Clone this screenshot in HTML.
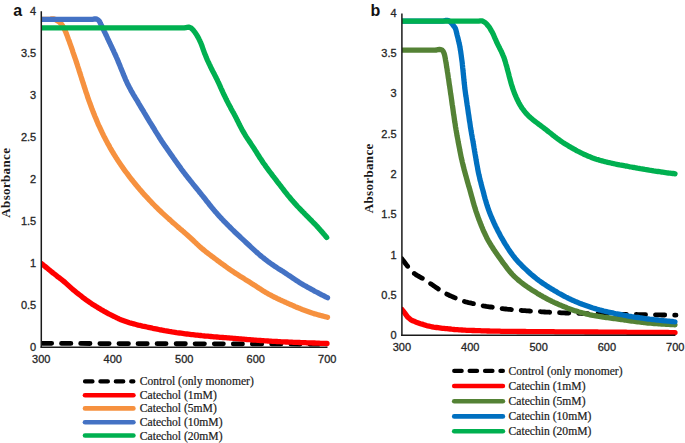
<!DOCTYPE html>
<html><head><meta charset="utf-8"><style>
html,body{margin:0;padding:0;background:#fff;}
svg{display:block;}
.tk{font-family:"Liberation Sans",sans-serif;font-size:11px;fill:#262626;stroke:#262626;stroke-width:0.3px;}
.lg{font-family:"Liberation Serif",serif;font-size:11.6px;fill:#1a1a1a;stroke:#1a1a1a;stroke-width:0.2px;}
.ab{font-family:"Liberation Serif",serif;font-size:13px;font-weight:bold;fill:#1a1a1a;letter-spacing:0.35px;}
.pl{font-family:"Liberation Sans",sans-serif;font-size:16px;font-weight:bold;fill:#111;}
</style></head><body>
<svg width="685" height="443" viewBox="0 0 685 443">
<defs><clipPath id="ca"><rect x="41.3" y="0" width="300" height="360"/></clipPath><clipPath id="cb"><rect x="401.9" y="0" width="290" height="360"/></clipPath></defs>
<g clip-path="url(#ca)">
<path d="M42.6,343.3 C55.5,343.4 93.8,343.5 120.0,343.6 C146.2,343.7 165.5,343.7 200.0,343.8 C234.5,343.9 305.8,344.0 327.0,344.0" fill="none" stroke="#000" stroke-width="4.8" stroke-linecap="round" stroke-linejoin="round" stroke-dasharray="9.3 9.78"/>
<path d="M41.5,263.6 L42.7,264.5 L43.8,265.5 L45.0,266.4 L46.2,267.4 L47.3,268.3 L48.5,269.3 L49.7,270.2 L50.9,271.2 L52.0,272.1 L53.2,273.1 L54.4,274.0 L55.6,274.9 L56.7,275.9 L57.9,276.8 L59.1,277.7 L60.3,278.6 L61.5,279.5 L62.7,280.5 L63.8,281.4 L65.0,282.4 L66.1,283.4 L67.2,284.4 L68.3,285.4 L69.4,286.4 L70.5,287.4 L71.6,288.4 L72.7,289.4 L73.9,290.3 L75.1,291.3 L76.2,292.2 L77.4,293.2 L78.6,294.1 L79.8,295.0 L81.0,295.9 L82.1,296.9 L83.3,297.8 L84.5,298.7 L85.7,299.6 L86.9,300.5 L88.2,301.3 L89.4,302.2 L90.7,303.0 L91.9,303.9 L93.2,304.7 L94.5,305.5 L95.7,306.3 L97.0,307.1 L98.3,307.9 L99.6,308.6 L100.9,309.4 L102.2,310.2 L103.5,310.9 L104.8,311.7 L106.1,312.4 L107.4,313.1 L108.7,313.8 L110.1,314.5 L111.4,315.2 L112.8,315.9 L114.1,316.5 L115.5,317.2 L116.8,317.8 L118.2,318.5 L119.5,319.1 L120.9,319.7 L122.3,320.2 L123.7,320.7 L125.1,321.2 L126.6,321.7 L128.0,322.2 L129.4,322.7 L130.9,323.1 L132.3,323.5 L133.7,323.9 L135.2,324.3 L136.7,324.7 L138.1,325.1 L139.6,325.4 L141.0,325.7 L142.5,326.1 L144.0,326.4 L145.5,326.7 L146.9,327.0 L148.4,327.3 L149.9,327.6 L151.3,327.9 L152.8,328.3 L154.3,328.6 L155.8,328.9 L157.2,329.2 L158.7,329.5 L160.2,329.8 L161.7,330.0 L163.1,330.3 L164.6,330.6 L166.1,330.8 L167.6,331.1 L169.1,331.4 L170.6,331.6 L172.0,331.9 L173.5,332.1 L175.0,332.3 L176.5,332.6 L178.0,332.8 L179.5,333.0 L181.0,333.2 L182.5,333.4 L183.9,333.6 L185.4,333.8 L186.9,334.0 L188.4,334.2 L189.9,334.4 L191.4,334.6 L192.9,334.7 L194.4,334.9 L195.9,335.1 L197.4,335.2 L198.9,335.4 L200.4,335.5 L201.9,335.7 L203.4,335.8 L204.9,336.0 L206.4,336.1 L207.9,336.2 L209.4,336.4 L210.9,336.5 L212.4,336.6 L213.9,336.8 L215.4,336.9 L216.9,337.0 L218.4,337.1 L219.9,337.3 L221.4,337.4 L222.9,337.5 L224.4,337.6 L225.9,337.7 L227.4,337.8 L228.9,337.9 L230.4,338.1 L231.9,338.2 L233.4,338.3 L234.9,338.4 L236.4,338.6 L237.9,338.7 L239.4,338.8 L240.9,338.9 L242.4,339.1 L243.9,339.2 L245.4,339.3 L246.9,339.5 L248.4,339.6 L249.9,339.7 L251.4,339.9 L252.9,340.0 L254.4,340.1 L255.9,340.2 L257.4,340.3 L258.9,340.4 L260.4,340.5 L261.9,340.6 L263.4,340.7 L264.9,340.8 L266.4,340.9 L267.9,341.0 L269.4,341.1 L270.9,341.2 L272.4,341.3 L273.9,341.4 L275.4,341.4 L276.9,341.5 L278.4,341.6 L279.9,341.7 L281.4,341.8 L282.9,341.8 L284.4,341.9 L285.9,342.0 L287.4,342.0 L288.9,342.1 L290.4,342.2 L291.9,342.2 L293.4,342.3 L294.9,342.3 L296.4,342.4 L297.9,342.4 L299.4,342.5 L300.9,342.6 L302.4,342.6 L303.9,342.7 L305.4,342.7 L306.9,342.8 L308.5,342.8 L310.0,342.9 L311.5,342.9 L313.0,343.0 L314.5,343.0 L316.0,343.1 L317.5,343.2 L319.0,343.2 L320.5,343.3 L322.0,343.3 L323.5,343.4 L325.0,343.4 L326.5,343.5 L327.0,343.5" fill="none" stroke="#FF0000" stroke-width="5.3" stroke-linecap="round" stroke-linejoin="round"/>
<path d="M41.5,19.4 L43.0,19.4 L44.5,19.4 L46.0,19.4 L47.5,19.4 L49.0,19.4 L50.5,19.2 L52.0,18.9 L53.4,18.8 L54.7,19.2 L56.0,19.9 L57.3,20.7 L58.6,21.5 L59.8,22.4 L60.8,23.5 L61.8,24.6 L62.6,25.8 L63.4,27.1 L64.0,28.5 L64.7,29.8 L65.3,31.2 L65.9,32.5 L66.4,33.9 L67.0,35.3 L67.5,36.7 L68.0,38.1 L68.5,39.5 L69.1,40.9 L69.6,42.4 L70.1,43.8 L70.6,45.2 L71.1,46.6 L71.6,48.0 L72.1,49.4 L72.6,50.9 L73.0,52.3 L73.5,53.7 L74.0,55.1 L74.5,56.5 L75.0,58.0 L75.5,59.4 L76.0,60.8 L76.4,62.2 L76.9,63.7 L77.4,65.1 L77.8,66.5 L78.3,68.0 L78.8,69.4 L79.2,70.8 L79.7,72.3 L80.1,73.7 L80.6,75.1 L81.0,76.5 L81.5,78.0 L81.9,79.4 L82.4,80.8 L82.9,82.3 L83.3,83.7 L83.8,85.1 L84.2,86.6 L84.7,88.0 L85.2,89.4 L85.6,90.9 L86.1,92.3 L86.6,93.7 L87.1,95.1 L87.5,96.6 L88.0,98.0 L88.5,99.4 L89.0,100.8 L89.5,102.2 L90.0,103.6 L90.6,105.1 L91.1,106.5 L91.6,107.9 L92.1,109.3 L92.7,110.7 L93.2,112.1 L93.8,113.5 L94.3,114.9 L94.9,116.3 L95.5,117.6 L96.1,119.0 L96.6,120.4 L97.2,121.8 L97.8,123.2 L98.4,124.6 L99.0,125.9 L99.7,127.3 L100.3,128.7 L100.9,130.0 L101.6,131.4 L102.2,132.7 L102.9,134.1 L103.5,135.4 L104.2,136.8 L104.9,138.1 L105.6,139.4 L106.3,140.8 L107.0,142.1 L107.7,143.4 L108.4,144.7 L109.2,146.0 L109.9,147.4 L110.6,148.7 L111.4,150.0 L112.2,151.3 L112.9,152.5 L113.7,153.8 L114.5,155.1 L115.3,156.4 L116.1,157.7 L116.9,158.9 L117.7,160.2 L118.5,161.4 L119.4,162.7 L120.2,163.9 L121.1,165.2 L121.9,166.4 L122.8,167.6 L123.6,168.9 L124.5,170.1 L125.4,171.3 L126.3,172.5 L127.2,173.7 L128.1,174.9 L129.0,176.1 L129.9,177.3 L130.8,178.5 L131.8,179.7 L132.7,180.8 L133.6,182.0 L134.6,183.2 L135.5,184.4 L136.5,185.5 L137.5,186.7 L138.4,187.8 L139.4,189.0 L140.4,190.1 L141.4,191.2 L142.3,192.4 L143.3,193.5 L144.3,194.6 L145.3,195.7 L146.4,196.8 L147.4,197.9 L148.4,199.0 L149.4,200.1 L150.5,201.2 L151.5,202.3 L152.5,203.4 L153.6,204.5 L154.6,205.5 L155.7,206.6 L156.8,207.7 L157.8,208.7 L158.9,209.8 L160.0,210.8 L161.1,211.8 L162.2,212.9 L163.3,213.9 L164.4,214.9 L165.5,215.9 L166.6,216.9 L167.7,217.9 L168.8,218.9 L170.0,219.9 L171.1,220.9 L172.2,222.0 L173.3,223.0 L174.5,223.9 L175.6,224.9 L176.7,225.9 L177.8,226.9 L179.0,227.9 L180.1,228.9 L181.3,229.8 L182.4,230.8 L183.6,231.8 L184.7,232.8 L185.8,233.7 L187.0,234.7 L188.1,235.7 L189.2,236.7 L190.3,237.7 L191.4,238.8 L192.5,239.8 L193.6,240.8 L194.7,241.9 L195.8,242.9 L196.8,243.9 L197.9,244.9 L199.0,246.0 L200.2,247.0 L201.3,248.0 L202.4,248.9 L203.6,249.9 L204.7,250.8 L205.9,251.8 L207.1,252.7 L208.3,253.6 L209.5,254.5 L210.7,255.4 L211.9,256.3 L213.1,257.2 L214.3,258.1 L215.5,259.0 L216.7,259.9 L217.9,260.8 L219.1,261.7 L220.3,262.6 L221.5,263.5 L222.8,264.4 L224.0,265.2 L225.2,266.1 L226.4,267.0 L227.6,267.9 L228.8,268.7 L230.1,269.6 L231.3,270.5 L232.6,271.3 L233.8,272.1 L235.1,273.0 L236.3,273.8 L237.6,274.6 L238.9,275.4 L240.1,276.2 L241.4,277.0 L242.7,277.8 L244.0,278.6 L245.2,279.4 L246.5,280.2 L247.8,281.0 L249.1,281.8 L250.3,282.6 L251.6,283.4 L252.9,284.2 L254.1,285.0 L255.4,285.8 L256.6,286.6 L257.9,287.5 L259.1,288.3 L260.4,289.1 L261.7,289.9 L262.9,290.7 L264.2,291.5 L265.5,292.3 L266.8,293.0 L268.1,293.8 L269.4,294.5 L270.7,295.2 L272.0,295.9 L273.4,296.6 L274.7,297.3 L276.1,297.9 L277.4,298.6 L278.8,299.2 L280.1,299.9 L281.5,300.5 L282.9,301.1 L284.2,301.7 L285.6,302.3 L287.0,303.0 L288.4,303.6 L289.7,304.2 L291.1,304.8 L292.5,305.4 L293.9,306.0 L295.2,306.6 L296.6,307.2 L298.0,307.8 L299.4,308.3 L300.8,308.9 L302.2,309.5 L303.6,310.0 L305.0,310.5 L306.4,311.0 L307.8,311.5 L309.2,312.0 L310.6,312.5 L312.1,313.0 L313.5,313.4 L314.9,313.9 L316.4,314.3 L317.8,314.7 L319.3,315.1 L320.7,315.5 L322.2,315.9 L323.6,316.3 L325.1,316.7 L326.5,317.0 L327.5,317.3" fill="none" stroke="#F6913F" stroke-width="5.3" stroke-linecap="round" stroke-linejoin="round"/>
<path d="M41.5,19.4 L43.0,19.4 L44.5,19.4 L46.0,19.4 L47.5,19.4 L49.0,19.4 L50.5,19.4 L52.0,19.4 L53.5,19.4 L55.0,19.4 L56.5,19.4 L58.0,19.4 L59.5,19.4 L61.0,19.4 L62.5,19.4 L64.0,19.4 L65.5,19.4 L67.0,19.4 L68.5,19.4 L70.0,19.4 L71.5,19.4 L73.1,19.4 L74.6,19.4 L76.1,19.4 L77.6,19.4 L79.1,19.4 L80.6,19.4 L82.1,19.4 L83.6,19.4 L85.1,19.4 L86.6,19.4 L88.1,19.4 L89.6,19.4 L91.1,19.4 L92.6,19.3 L94.0,19.0 L95.5,18.8 L96.8,19.1 L98.0,19.9 L99.1,20.9 L99.9,22.2 L100.5,23.6 L101.2,24.9 L101.8,26.2 L102.5,27.6 L103.1,28.9 L103.8,30.3 L104.4,31.6 L105.1,33.0 L105.7,34.3 L106.4,35.7 L107.0,37.0 L107.6,38.4 L108.3,39.7 L108.9,41.1 L109.5,42.5 L110.2,43.8 L110.8,45.2 L111.5,46.5 L112.1,47.9 L112.7,49.3 L113.4,50.6 L114.0,52.0 L114.6,53.3 L115.3,54.7 L115.9,56.1 L116.5,57.5 L117.1,58.8 L117.7,60.2 L118.2,61.6 L118.8,63.0 L119.4,64.4 L120.0,65.8 L120.5,67.2 L121.1,68.6 L121.6,69.9 L122.2,71.3 L122.8,72.7 L123.3,74.1 L123.9,75.5 L124.5,76.9 L125.1,78.3 L125.6,79.7 L126.3,81.0 L126.9,82.4 L127.5,83.7 L128.2,85.1 L128.9,86.4 L129.6,87.8 L130.3,89.1 L131.0,90.4 L131.7,91.7 L132.5,93.0 L133.2,94.3 L134.0,95.6 L134.8,96.9 L135.5,98.1 L136.3,99.4 L137.1,100.7 L137.9,102.0 L138.6,103.3 L139.4,104.6 L140.2,105.9 L140.9,107.2 L141.7,108.5 L142.5,109.8 L143.3,111.0 L144.0,112.3 L144.8,113.6 L145.6,114.9 L146.3,116.2 L147.1,117.5 L147.9,118.8 L148.7,120.1 L149.4,121.3 L150.2,122.6 L151.0,123.9 L151.8,125.2 L152.6,126.5 L153.4,127.8 L154.2,129.0 L154.9,130.3 L155.7,131.6 L156.5,132.9 L157.3,134.1 L158.1,135.4 L158.9,136.7 L159.7,138.0 L160.5,139.2 L161.3,140.5 L162.1,141.7 L163.0,143.0 L163.8,144.2 L164.7,145.5 L165.5,146.7 L166.4,147.9 L167.2,149.2 L168.1,150.4 L169.0,151.6 L169.8,152.9 L170.7,154.1 L171.6,155.3 L172.4,156.5 L173.3,157.8 L174.2,159.0 L175.0,160.2 L175.9,161.5 L176.8,162.7 L177.6,163.9 L178.5,165.1 L179.4,166.3 L180.3,167.6 L181.1,168.8 L182.0,170.0 L182.9,171.2 L183.8,172.4 L184.8,173.6 L185.7,174.8 L186.6,176.0 L187.5,177.1 L188.4,178.3 L189.4,179.5 L190.3,180.7 L191.3,181.8 L192.2,183.0 L193.1,184.2 L194.1,185.4 L195.0,186.5 L196.0,187.7 L196.9,188.9 L197.9,190.0 L198.8,191.2 L199.7,192.4 L200.7,193.5 L201.6,194.7 L202.6,195.9 L203.5,197.0 L204.5,198.2 L205.4,199.4 L206.3,200.6 L207.2,201.8 L208.2,202.9 L209.1,204.1 L210.0,205.3 L211.0,206.5 L211.9,207.6 L212.9,208.8 L213.8,209.9 L214.8,211.1 L215.8,212.2 L216.8,213.3 L217.8,214.5 L218.8,215.6 L219.8,216.7 L220.8,217.8 L221.8,218.9 L222.9,220.0 L223.9,221.1 L224.9,222.1 L226.0,223.2 L227.1,224.3 L228.1,225.4 L229.2,226.4 L230.2,227.5 L231.3,228.5 L232.4,229.6 L233.5,230.6 L234.5,231.7 L235.6,232.7 L236.7,233.7 L237.8,234.8 L238.9,235.8 L240.0,236.8 L241.1,237.9 L242.2,238.9 L243.3,239.9 L244.4,240.9 L245.5,242.0 L246.6,243.0 L247.7,244.0 L248.8,245.0 L249.9,246.0 L251.0,247.1 L252.1,248.1 L253.2,249.1 L254.3,250.1 L255.4,251.1 L256.5,252.1 L257.7,253.1 L258.8,254.1 L259.9,255.1 L261.1,256.1 L262.2,257.0 L263.4,257.9 L264.6,258.9 L265.8,259.8 L266.9,260.7 L268.1,261.6 L269.4,262.5 L270.6,263.4 L271.8,264.2 L273.0,265.1 L274.3,265.9 L275.5,266.8 L276.8,267.6 L278.0,268.4 L279.3,269.2 L280.6,270.0 L281.8,270.8 L283.1,271.6 L284.4,272.4 L285.6,273.2 L286.9,274.1 L288.1,274.9 L289.4,275.7 L290.6,276.6 L291.9,277.4 L293.1,278.3 L294.3,279.1 L295.6,279.9 L296.8,280.8 L298.1,281.6 L299.4,282.4 L300.7,283.2 L301.9,283.9 L303.2,284.7 L304.5,285.5 L305.8,286.2 L307.1,286.9 L308.4,287.7 L309.8,288.4 L311.1,289.1 L312.4,289.8 L313.7,290.6 L315.0,291.3 L316.4,292.0 L317.7,292.7 L319.0,293.4 L320.4,294.1 L321.7,294.8 L323.0,295.4 L324.4,296.1 L325.7,296.8 L327.1,297.5 L327.5,297.7" fill="none" stroke="#4472C4" stroke-width="5.3" stroke-linecap="round" stroke-linejoin="round"/>
<path d="M41.5,27.9 L43.0,27.9 L44.5,27.9 L46.0,27.9 L47.5,27.9 L49.0,27.9 L50.5,27.9 L52.0,27.9 L53.5,27.9 L55.0,27.9 L56.5,27.9 L58.0,27.9 L59.5,27.9 L61.0,27.9 L62.5,27.9 L64.1,27.9 L65.6,27.9 L67.1,27.9 L68.6,27.9 L70.1,27.9 L71.6,27.9 L73.1,27.9 L74.6,27.9 L76.1,27.9 L77.6,27.9 L79.1,27.9 L80.6,27.9 L82.1,27.9 L83.6,27.9 L85.1,27.9 L86.6,27.9 L88.1,27.9 L89.6,27.9 L91.1,27.9 L92.6,27.9 L94.1,27.9 L95.6,27.9 L97.1,27.9 L98.6,27.9 L100.1,27.9 L101.6,27.9 L103.1,27.9 L104.6,27.9 L106.1,27.9 L107.6,27.9 L109.2,27.9 L110.7,27.9 L112.2,27.9 L113.7,27.9 L115.2,27.9 L116.7,27.9 L118.2,27.9 L119.7,27.9 L121.2,27.9 L122.7,27.9 L124.2,27.9 L125.7,27.9 L127.2,27.9 L128.7,27.9 L130.2,27.9 L131.7,27.9 L133.2,27.9 L134.7,27.9 L136.2,27.9 L137.7,27.9 L139.2,27.9 L140.7,27.9 L142.2,27.9 L143.7,27.9 L145.2,27.9 L146.7,27.9 L148.2,27.9 L149.7,27.9 L151.2,27.9 L152.7,27.9 L154.3,27.9 L155.8,27.9 L157.3,27.9 L158.8,27.9 L160.3,27.9 L161.8,27.9 L163.3,27.9 L164.8,27.9 L166.3,27.9 L167.8,27.9 L169.3,27.9 L170.8,27.9 L172.3,27.9 L173.8,27.9 L175.3,27.9 L176.8,27.9 L178.3,27.9 L179.8,27.9 L181.3,27.9 L182.8,27.9 L184.3,27.9 L185.8,27.7 L187.2,27.3 L188.6,27.1 L190.0,27.5 L191.3,28.2 L192.4,29.2 L193.4,30.3 L194.3,31.5 L195.2,32.7 L196.0,33.9 L196.8,35.2 L197.6,36.5 L198.4,37.8 L199.0,39.1 L199.7,40.5 L200.3,41.9 L200.9,43.2 L201.5,44.6 L202.0,46.0 L202.5,47.5 L203.0,48.9 L203.5,50.3 L204.0,51.7 L204.5,53.1 L205.1,54.5 L205.7,55.9 L206.2,57.3 L206.8,58.7 L207.4,60.1 L208.0,61.4 L208.7,62.8 L209.3,64.1 L210.0,65.5 L210.6,66.9 L211.3,68.2 L211.9,69.6 L212.6,70.9 L213.3,72.2 L214.0,73.6 L214.7,74.9 L215.4,76.2 L216.0,77.6 L216.7,78.9 L217.4,80.3 L218.0,81.6 L218.7,83.0 L219.3,84.4 L219.9,85.7 L220.5,87.1 L221.1,88.5 L221.7,89.8 L222.4,91.2 L223.0,92.6 L223.6,93.9 L224.2,95.3 L224.9,96.6 L225.6,98.0 L226.2,99.3 L226.9,100.7 L227.6,102.0 L228.3,103.4 L229.0,104.7 L229.7,106.0 L230.4,107.3 L231.1,108.7 L231.8,110.0 L232.5,111.3 L233.3,112.6 L234.0,113.9 L234.7,115.3 L235.4,116.6 L236.1,117.9 L236.8,119.3 L237.4,120.6 L238.1,121.9 L238.8,123.3 L239.4,124.6 L240.1,125.9 L240.8,127.3 L241.5,128.6 L242.2,129.9 L242.9,131.2 L243.7,132.5 L244.5,133.8 L245.2,135.1 L246.0,136.4 L246.8,137.6 L247.7,138.9 L248.5,140.1 L249.3,141.4 L250.2,142.6 L251.0,143.9 L251.8,145.1 L252.7,146.4 L253.5,147.6 L254.3,148.9 L255.1,150.2 L255.9,151.4 L256.7,152.7 L257.5,154.0 L258.3,155.2 L259.1,156.5 L259.9,157.8 L260.8,159.0 L261.6,160.3 L262.4,161.5 L263.2,162.8 L264.1,164.0 L265.0,165.2 L265.8,166.5 L266.7,167.7 L267.6,168.9 L268.5,170.1 L269.4,171.3 L270.3,172.5 L271.2,173.7 L272.1,174.9 L273.0,176.1 L274.0,177.3 L274.9,178.5 L275.8,179.7 L276.7,180.9 L277.6,182.1 L278.5,183.2 L279.4,184.4 L280.4,185.6 L281.3,186.8 L282.2,188.0 L283.1,189.2 L284.0,190.4 L284.9,191.6 L285.9,192.8 L286.8,193.9 L287.7,195.1 L288.7,196.3 L289.7,197.4 L290.6,198.6 L291.6,199.7 L292.6,200.9 L293.6,202.0 L294.6,203.1 L295.6,204.2 L296.6,205.4 L297.6,206.5 L298.6,207.5 L299.7,208.6 L300.7,209.7 L301.8,210.8 L302.8,211.9 L303.9,212.9 L304.9,214.0 L306.0,215.1 L307.0,216.1 L308.1,217.2 L309.2,218.3 L310.2,219.3 L311.3,220.4 L312.3,221.5 L313.4,222.6 L314.4,223.6 L315.5,224.7 L316.5,225.8 L317.5,226.9 L318.5,228.0 L319.5,229.1 L320.5,230.3 L321.5,231.4 L322.5,232.5 L323.5,233.7 L324.5,234.8 L325.4,236.0 L326.4,237.1 L326.7,237.5" fill="none" stroke="#00B050" stroke-width="5.3" stroke-linecap="round" stroke-linejoin="round"/>
</g>
<g clip-path="url(#cb)">
<path d="M402.0,258.9 L402.9,260.1 L403.8,261.3 L404.7,262.5 L405.6,263.7 L406.5,264.9 L407.4,266.1 L408.4,267.3 L409.3,268.5 L410.3,269.6 L411.3,270.7 L412.3,271.8 L413.4,272.8 L414.6,273.7 L415.8,274.6 L417.1,275.4 L418.4,276.1 L419.7,276.9 L421.0,277.6 L422.3,278.3 L423.6,279.1 L424.9,279.9 L426.1,280.7 L427.4,281.5 L428.6,282.4 L429.9,283.2 L431.1,284.0 L432.4,284.9 L433.6,285.7 L434.9,286.6 L436.1,287.4 L437.4,288.3 L438.6,289.1 L439.9,289.9 L441.1,290.7 L442.4,291.6 L443.7,292.3 L445.0,293.1 L446.3,293.8 L447.6,294.5 L449.0,295.2 L450.3,295.8 L451.7,296.4 L453.1,297.0 L454.5,297.6 L455.8,298.2 L457.2,298.8 L458.6,299.4 L460.0,300.0 L461.4,300.5 L462.8,301.0 L464.2,301.5 L465.7,301.9 L467.1,302.2 L468.6,302.6 L470.1,302.9 L471.5,303.2 L473.0,303.6 L474.5,303.9 L475.9,304.3 L477.4,304.6 L478.9,305.0 L480.3,305.3 L481.8,305.6 L483.3,305.9 L484.8,306.1 L486.2,306.4 L487.7,306.6 L489.2,306.8 L490.7,307.0 L492.2,307.2 L493.7,307.4 L495.2,307.7 L496.7,307.9 L498.2,308.1 L499.6,308.3 L501.1,308.5 L502.6,308.7 L504.1,308.9 L505.6,309.0 L507.1,309.2 L508.6,309.3 L510.1,309.4 L511.6,309.6 L513.1,309.7 L514.6,309.8 L516.1,309.9 L517.6,310.1 L519.1,310.2 L520.6,310.3 L522.1,310.5 L523.6,310.6 L525.1,310.7 L526.6,310.8 L528.1,310.9 L529.6,311.0 L531.1,311.1 L532.6,311.2 L534.1,311.3 L535.6,311.4 L537.1,311.5 L538.6,311.6 L540.1,311.7 L541.6,311.8 L543.1,311.9 L544.6,312.0 L546.1,312.1 L547.6,312.2 L549.1,312.2 L550.6,312.3 L552.1,312.4 L553.6,312.5 L555.1,312.5 L556.7,312.6 L558.2,312.7 L559.7,312.7 L561.2,312.8 L562.7,312.9 L564.2,312.9 L565.7,313.0 L567.2,313.0 L568.7,313.1 L570.2,313.1 L571.7,313.2 L573.2,313.2 L574.7,313.2 L576.2,313.3 L577.7,313.3 L579.2,313.4 L580.7,313.4 L582.2,313.5 L583.7,313.5 L585.2,313.6 L586.7,313.6 L588.2,313.7 L589.7,313.7 L591.2,313.7 L592.7,313.8 L594.2,313.8 L595.8,313.9 L597.3,313.9 L598.8,314.0 L600.3,314.0 L601.8,314.0 L603.3,314.0 L604.8,314.1 L606.3,314.1 L607.8,314.1 L609.3,314.1 L610.8,314.2 L612.3,314.2 L613.8,314.2 L615.3,314.2 L616.8,314.3 L618.3,314.3 L619.8,314.3 L621.3,314.3 L622.8,314.3 L624.3,314.4 L625.8,314.4 L627.4,314.4 L628.9,314.4 L630.4,314.5 L631.9,314.5 L633.4,314.5 L634.9,314.5 L636.4,314.5 L637.9,314.6 L639.4,314.6 L640.9,314.6 L642.4,314.6 L643.9,314.7 L645.4,314.7 L646.9,314.7 L648.4,314.7 L649.9,314.8 L651.4,314.8 L652.9,314.8 L654.4,314.8 L655.9,314.9 L657.4,314.9 L658.9,314.9 L660.5,314.9 L662.0,315.0 L663.5,315.0 L665.0,315.0 L666.5,315.0 L668.0,315.1 L669.5,315.1 L671.0,315.1 L672.5,315.1 L674.0,315.2 L675.5,315.2 L676.0,315.2" fill="none" stroke="#000" stroke-width="4.8" stroke-linecap="round" stroke-linejoin="round" stroke-dasharray="9.3 9.9"/>
<path d="M402.0,309.6 L402.9,310.8 L403.9,312.0 L404.8,313.1 L405.7,314.4 L406.6,315.6 L407.5,316.8 L408.5,317.8 L409.7,318.8 L410.8,319.7 L412.1,320.5 L413.5,321.1 L414.9,321.6 L416.3,322.2 L417.7,322.7 L419.1,323.2 L420.5,323.7 L422.0,324.1 L423.4,324.6 L424.8,325.0 L426.3,325.5 L427.7,325.9 L429.2,326.2 L430.6,326.5 L432.1,326.8 L433.6,327.1 L435.1,327.3 L436.6,327.5 L438.0,327.7 L439.5,327.9 L441.0,328.1 L442.5,328.3 L444.0,328.4 L445.5,328.6 L447.0,328.7 L448.5,328.9 L450.0,329.0 L451.5,329.2 L453.0,329.3 L454.5,329.5 L456.0,329.6 L457.5,329.7 L459.0,329.8 L460.5,329.9 L462.0,330.0 L463.5,330.1 L465.0,330.2 L466.5,330.3 L468.0,330.3 L469.5,330.4 L471.0,330.4 L472.5,330.5 L474.0,330.5 L475.5,330.6 L477.0,330.6 L478.5,330.7 L480.0,330.7 L481.5,330.8 L483.0,330.8 L484.5,330.9 L486.0,330.9 L487.5,331.0 L489.0,331.0 L490.5,331.1 L492.0,331.1 L493.5,331.1 L495.0,331.2 L496.5,331.2 L498.1,331.2 L499.6,331.2 L501.1,331.3 L502.6,331.3 L504.1,331.3 L505.6,331.3 L507.1,331.3 L508.6,331.4 L510.1,331.4 L511.6,331.4 L513.1,331.4 L514.6,331.4 L516.1,331.4 L517.6,331.5 L519.1,331.5 L520.6,331.5 L522.1,331.5 L523.6,331.5 L525.1,331.5 L526.6,331.6 L528.1,331.6 L529.6,331.6 L531.1,331.6 L532.6,331.6 L534.1,331.6 L535.6,331.6 L537.2,331.6 L538.7,331.7 L540.2,331.7 L541.7,331.7 L543.2,331.7 L544.7,331.7 L546.2,331.7 L547.7,331.7 L549.2,331.7 L550.7,331.7 L552.2,331.7 L553.7,331.7 L555.2,331.8 L556.7,331.8 L558.2,331.8 L559.7,331.8 L561.2,331.8 L562.7,331.8 L564.2,331.8 L565.7,331.8 L567.2,331.8 L568.7,331.8 L570.2,331.9 L571.7,331.9 L573.2,331.9 L574.7,331.9 L576.2,331.9 L577.8,331.9 L579.3,331.9 L580.8,331.9 L582.3,331.9 L583.8,331.9 L585.3,332.0 L586.8,332.0 L588.3,332.0 L589.8,332.0 L591.3,332.0 L592.8,332.0 L594.3,332.0 L595.8,332.0 L597.3,332.0 L598.8,332.1 L600.3,332.1 L601.8,332.1 L603.3,332.1 L604.8,332.1 L606.3,332.1 L607.8,332.1 L609.3,332.1 L610.8,332.1 L612.3,332.1 L613.8,332.2 L615.3,332.2 L616.9,332.2 L618.4,332.2 L619.9,332.2 L621.4,332.2 L622.9,332.2 L624.4,332.2 L625.9,332.2 L627.4,332.3 L628.9,332.3 L630.4,332.3 L631.9,332.3 L633.4,332.3 L634.9,332.3 L636.4,332.3 L637.9,332.3 L639.4,332.3 L640.9,332.4 L642.4,332.4 L643.9,332.4 L645.4,332.4 L646.9,332.4 L648.4,332.4 L649.9,332.4 L651.4,332.4 L652.9,332.4 L654.4,332.5 L656.0,332.5 L657.5,332.5 L659.0,332.5 L660.5,332.5 L662.0,332.5 L663.5,332.5 L665.0,332.5 L666.5,332.5 L668.0,332.5 L669.5,332.6 L671.0,332.6 L672.5,332.6 L674.0,332.6 L675.0,332.6" fill="none" stroke="#FF0000" stroke-width="5.3" stroke-linecap="round" stroke-linejoin="round"/>
<path d="M402.0,50.1 L403.5,50.1 L405.0,50.1 L406.5,50.1 L408.0,50.1 L409.5,50.1 L411.0,50.1 L412.5,50.1 L414.0,50.1 L415.5,50.1 L417.0,50.1 L418.5,50.1 L420.0,50.1 L421.5,50.1 L423.0,50.1 L424.5,50.1 L426.0,50.1 L427.5,50.1 L429.0,50.1 L430.5,50.1 L432.0,50.1 L433.5,50.1 L435.1,50.1 L436.5,50.0 L438.0,49.7 L439.5,49.5 L440.9,49.6 L442.2,50.2 L443.1,51.2 L443.8,52.6 L444.3,54.0 L444.7,55.4 L445.0,56.9 L445.3,58.4 L445.5,59.9 L445.8,61.4 L446.0,62.8 L446.3,64.3 L446.5,65.8 L446.7,67.3 L447.0,68.7 L447.2,70.2 L447.4,71.7 L447.7,73.2 L447.9,74.7 L448.1,76.2 L448.3,77.7 L448.6,79.1 L448.8,80.6 L449.0,82.1 L449.2,83.6 L449.4,85.1 L449.7,86.6 L449.9,88.1 L450.1,89.5 L450.3,91.0 L450.5,92.5 L450.7,94.0 L451.0,95.5 L451.2,97.0 L451.4,98.5 L451.6,99.9 L451.8,101.4 L452.0,102.9 L452.2,104.4 L452.5,105.9 L452.7,107.4 L452.9,108.9 L453.1,110.4 L453.3,111.8 L453.5,113.3 L453.7,114.8 L454.0,116.3 L454.2,117.8 L454.4,119.3 L454.6,120.8 L454.8,122.3 L455.1,123.7 L455.3,125.2 L455.5,126.7 L455.8,128.2 L456.0,129.7 L456.3,131.1 L456.5,132.6 L456.8,134.1 L457.0,135.6 L457.3,137.1 L457.6,138.5 L457.9,140.0 L458.1,141.5 L458.4,143.0 L458.7,144.4 L459.0,145.9 L459.3,147.4 L459.6,148.9 L459.8,150.3 L460.1,151.8 L460.4,153.3 L460.7,154.8 L461.0,156.2 L461.3,157.7 L461.7,159.2 L462.0,160.6 L462.3,162.1 L462.7,163.6 L463.0,165.0 L463.4,166.5 L463.8,167.9 L464.1,169.4 L464.5,170.8 L464.9,172.3 L465.3,173.7 L465.7,175.2 L466.1,176.6 L466.5,178.1 L466.9,179.5 L467.3,181.0 L467.7,182.4 L468.1,183.9 L468.5,185.3 L469.0,186.8 L469.4,188.2 L469.8,189.6 L470.2,191.1 L470.6,192.5 L471.0,194.0 L471.4,195.4 L471.8,196.9 L472.2,198.3 L472.6,199.8 L473.0,201.2 L473.4,202.7 L473.8,204.1 L474.2,205.6 L474.7,207.0 L475.1,208.4 L475.6,209.9 L476.0,211.3 L476.5,212.7 L477.0,214.1 L477.5,215.5 L478.0,217.0 L478.5,218.4 L479.0,219.8 L479.6,221.2 L480.1,222.6 L480.7,224.0 L481.2,225.4 L481.8,226.8 L482.4,228.1 L482.9,229.5 L483.5,230.9 L484.1,232.3 L484.8,233.6 L485.4,235.0 L486.1,236.3 L486.7,237.7 L487.4,239.0 L488.1,240.3 L488.9,241.6 L489.6,242.9 L490.4,244.2 L491.2,245.5 L492.0,246.7 L492.8,248.0 L493.6,249.3 L494.5,250.5 L495.3,251.8 L496.2,253.0 L497.0,254.2 L497.9,255.5 L498.7,256.7 L499.6,257.9 L500.5,259.1 L501.4,260.3 L502.2,261.6 L503.1,262.8 L504.0,264.0 L504.9,265.2 L505.8,266.4 L506.7,267.6 L507.6,268.8 L508.5,270.0 L509.5,271.1 L510.4,272.3 L511.4,273.4 L512.4,274.5 L513.5,275.6 L514.5,276.6 L515.6,277.6 L516.7,278.6 L517.8,279.6 L519.0,280.6 L520.1,281.5 L521.3,282.5 L522.5,283.4 L523.7,284.3 L524.9,285.2 L526.1,286.0 L527.3,286.9 L528.6,287.8 L529.8,288.6 L531.1,289.4 L532.3,290.2 L533.6,291.0 L534.9,291.8 L536.2,292.6 L537.4,293.4 L538.7,294.2 L540.0,294.9 L541.3,295.7 L542.6,296.4 L543.9,297.2 L545.3,297.9 L546.6,298.6 L547.9,299.3 L549.2,300.0 L550.6,300.6 L551.9,301.3 L553.3,302.0 L554.6,302.6 L556.0,303.2 L557.4,303.8 L558.7,304.5 L560.1,305.1 L561.5,305.6 L562.9,306.2 L564.3,306.8 L565.7,307.3 L567.1,307.9 L568.5,308.4 L569.9,308.9 L571.3,309.4 L572.7,309.9 L574.1,310.4 L575.6,310.9 L577.0,311.3 L578.4,311.8 L579.9,312.2 L581.3,312.6 L582.8,313.0 L584.2,313.4 L585.7,313.8 L587.1,314.1 L588.6,314.5 L590.0,314.8 L591.5,315.1 L593.0,315.4 L594.5,315.6 L595.9,315.9 L597.4,316.2 L598.9,316.4 L600.4,316.6 L601.9,316.8 L603.4,317.1 L604.8,317.3 L606.3,317.5 L607.8,317.7 L609.3,317.9 L610.8,318.1 L612.3,318.3 L613.8,318.5 L615.3,318.7 L616.7,318.9 L618.2,319.1 L619.7,319.3 L621.2,319.5 L622.7,319.7 L624.2,320.0 L625.7,320.2 L627.2,320.4 L628.6,320.6 L630.1,320.8 L631.6,321.0 L633.1,321.2 L634.6,321.4 L636.1,321.6 L637.6,321.8 L639.1,321.9 L640.6,322.1 L642.1,322.3 L643.5,322.5 L645.0,322.6 L646.5,322.8 L648.0,323.0 L649.5,323.1 L651.0,323.2 L652.5,323.4 L654.0,323.5 L655.5,323.6 L657.0,323.7 L658.5,323.8 L660.0,323.9 L661.5,324.0 L663.0,324.1 L664.5,324.2 L666.0,324.3 L667.5,324.4 L669.0,324.4 L670.5,324.5 L672.0,324.6 L673.5,324.7 L675.0,324.8" fill="none" stroke="#548235" stroke-width="5.3" stroke-linecap="round" stroke-linejoin="round"/>
<path d="M402.0,21.2 L403.5,21.2 L405.0,21.2 L406.5,21.2 L408.0,21.2 L409.5,21.2 L411.0,21.2 L412.5,21.2 L414.0,21.2 L415.5,21.2 L417.0,21.2 L418.5,21.2 L420.0,21.2 L421.5,21.2 L423.0,21.2 L424.5,21.2 L426.0,21.2 L427.5,21.2 L429.0,21.2 L430.5,21.2 L432.0,21.2 L433.5,21.2 L435.0,21.2 L436.6,21.2 L438.1,21.2 L439.6,21.2 L441.1,21.2 L442.6,21.1 L444.0,20.9 L445.5,20.5 L446.9,20.4 L448.4,20.7 L449.7,21.3 L450.7,22.3 L451.7,23.4 L452.7,24.6 L453.6,25.8 L454.5,27.0 L455.3,28.2 L455.8,29.6 L456.2,31.1 L456.5,32.5 L456.9,34.0 L457.2,35.4 L457.6,36.9 L458.0,38.3 L458.3,39.8 L458.7,41.3 L459.0,42.7 L459.4,44.2 L459.7,45.7 L459.9,47.1 L460.2,48.6 L460.4,50.1 L460.7,51.6 L460.9,53.1 L461.1,54.5 L461.3,56.0 L461.5,57.5 L461.7,59.0 L461.9,60.5 L462.1,62.0 L462.3,63.5 L462.4,65.0 L462.6,66.5 L462.7,68.0 L462.9,69.4 L463.0,70.9 L463.2,72.4 L463.3,73.9 L463.5,75.4 L463.6,76.9 L463.8,78.4 L463.9,79.9 L464.1,81.4 L464.2,82.9 L464.4,84.4 L464.6,85.9 L464.7,87.4 L464.9,88.9 L465.1,90.4 L465.3,91.8 L465.5,93.3 L465.7,94.8 L465.9,96.3 L466.2,97.8 L466.4,99.3 L466.6,100.8 L466.8,102.3 L467.0,103.7 L467.2,105.2 L467.5,106.7 L467.7,108.2 L467.9,109.7 L468.1,111.2 L468.3,112.7 L468.5,114.1 L468.8,115.6 L469.0,117.1 L469.2,118.6 L469.4,120.1 L469.6,121.6 L469.9,123.1 L470.1,124.5 L470.3,126.0 L470.5,127.5 L470.8,129.0 L471.0,130.5 L471.3,132.0 L471.5,133.4 L471.8,134.9 L472.1,136.4 L472.3,137.9 L472.6,139.4 L472.9,140.8 L473.1,142.3 L473.4,143.8 L473.6,145.3 L473.9,146.8 L474.1,148.2 L474.4,149.7 L474.6,151.2 L474.9,152.7 L475.1,154.2 L475.4,155.6 L475.6,157.1 L475.9,158.6 L476.1,160.1 L476.4,161.6 L476.6,163.0 L476.9,164.5 L477.2,166.0 L477.5,167.5 L477.7,169.0 L478.0,170.4 L478.3,171.9 L478.6,173.4 L478.9,174.8 L479.3,176.3 L479.6,177.8 L479.9,179.2 L480.3,180.7 L480.7,182.1 L481.0,183.6 L481.4,185.0 L481.8,186.5 L482.2,187.9 L482.6,189.4 L483.0,190.8 L483.4,192.3 L483.8,193.7 L484.1,195.2 L484.5,196.6 L484.9,198.1 L485.3,199.5 L485.8,201.0 L486.2,202.4 L486.6,203.8 L487.1,205.3 L487.5,206.7 L488.0,208.1 L488.5,209.5 L489.0,211.0 L489.5,212.4 L490.1,213.8 L490.6,215.2 L491.2,216.5 L491.8,217.9 L492.4,219.3 L493.0,220.7 L493.6,222.0 L494.2,223.4 L494.9,224.8 L495.5,226.1 L496.2,227.5 L496.9,228.8 L497.5,230.1 L498.2,231.5 L498.9,232.8 L499.6,234.1 L500.3,235.5 L501.0,236.8 L501.8,238.1 L502.5,239.4 L503.3,240.7 L504.0,242.0 L504.8,243.3 L505.6,244.6 L506.4,245.8 L507.2,247.1 L508.0,248.4 L508.8,249.6 L509.6,250.9 L510.5,252.1 L511.4,253.3 L512.2,254.5 L513.1,255.7 L514.1,256.9 L515.0,258.1 L515.9,259.2 L516.9,260.4 L517.9,261.5 L518.9,262.6 L520.0,263.7 L521.0,264.7 L522.1,265.8 L523.1,266.8 L524.2,267.9 L525.3,268.9 L526.4,269.9 L527.5,271.0 L528.6,272.0 L529.7,273.0 L530.8,274.0 L532.0,275.0 L533.1,275.9 L534.3,276.9 L535.4,277.8 L536.6,278.8 L537.8,279.7 L539.0,280.6 L540.2,281.4 L541.4,282.3 L542.7,283.2 L543.9,284.0 L545.2,284.8 L546.4,285.7 L547.7,286.5 L548.9,287.3 L550.2,288.1 L551.5,288.9 L552.8,289.6 L554.1,290.4 L555.4,291.2 L556.7,291.9 L557.9,292.7 L559.3,293.5 L560.6,294.2 L561.9,294.9 L563.2,295.6 L564.5,296.3 L565.8,297.0 L567.2,297.7 L568.5,298.4 L569.9,299.0 L571.2,299.6 L572.6,300.3 L574.0,300.9 L575.4,301.5 L576.7,302.0 L578.1,302.6 L579.5,303.2 L580.9,303.7 L582.3,304.3 L583.7,304.8 L585.1,305.3 L586.5,305.8 L588.0,306.3 L589.4,306.8 L590.8,307.3 L592.2,307.8 L593.7,308.2 L595.1,308.6 L596.5,309.1 L598.0,309.5 L599.4,309.9 L600.9,310.2 L602.3,310.6 L603.8,311.0 L605.3,311.3 L606.7,311.7 L608.2,312.0 L609.6,312.3 L611.1,312.6 L612.6,312.9 L614.1,313.3 L615.5,313.6 L617.0,313.8 L618.5,314.1 L619.9,314.4 L621.4,314.7 L622.9,315.0 L624.4,315.3 L625.8,315.5 L627.3,315.8 L628.8,316.1 L630.3,316.3 L631.8,316.6 L633.2,316.8 L634.7,317.1 L636.2,317.3 L637.7,317.5 L639.2,317.7 L640.7,318.0 L642.2,318.2 L643.6,318.4 L645.1,318.6 L646.6,318.8 L648.1,319.0 L649.6,319.2 L651.1,319.3 L652.6,319.5 L654.1,319.7 L655.6,319.8 L657.1,320.0 L658.6,320.2 L660.1,320.3 L661.5,320.5 L663.0,320.6 L664.5,320.8 L666.0,320.9 L667.5,321.1 L669.0,321.2 L670.5,321.4 L672.0,321.5 L673.5,321.7 L675.0,321.8" fill="none" stroke="#0070C0" stroke-width="5.3" stroke-linecap="round" stroke-linejoin="round"/>
<path d="M402.0,21.2 L403.5,21.2 L405.0,21.2 L406.5,21.2 L408.0,21.2 L409.5,21.2 L411.0,21.2 L412.5,21.2 L414.0,21.2 L415.5,21.2 L417.0,21.2 L418.5,21.2 L420.0,21.2 L421.5,21.2 L423.1,21.2 L424.6,21.2 L426.1,21.2 L427.6,21.2 L429.1,21.2 L430.6,21.2 L432.1,21.2 L433.6,21.2 L435.1,21.2 L436.6,21.2 L438.1,21.2 L439.6,21.2 L441.1,21.2 L442.6,21.2 L444.1,21.2 L445.6,21.2 L447.1,21.2 L448.6,21.2 L450.1,21.2 L451.6,21.2 L453.1,21.2 L454.6,21.2 L456.1,21.2 L457.6,21.2 L459.1,21.2 L460.6,21.2 L462.1,21.2 L463.7,21.2 L465.2,21.2 L466.7,21.2 L468.2,21.2 L469.7,21.2 L471.2,21.2 L472.7,21.2 L474.2,21.2 L475.7,21.2 L477.2,21.2 L478.7,21.1 L480.2,20.9 L481.6,20.8 L483.0,21.3 L484.3,22.0 L485.5,22.9 L486.6,23.9 L487.5,25.1 L488.5,26.2 L489.4,27.4 L490.2,28.7 L490.9,30.0 L491.7,31.3 L492.4,32.6 L493.1,33.9 L493.7,35.3 L494.3,36.7 L494.9,38.1 L495.5,39.4 L496.1,40.8 L496.7,42.2 L497.4,43.6 L498.0,44.9 L498.7,46.3 L499.4,47.6 L500.0,48.9 L500.7,50.3 L501.4,51.6 L502.0,53.0 L502.6,54.4 L503.2,55.8 L503.8,57.1 L504.3,58.6 L504.7,60.0 L505.2,61.4 L505.6,62.9 L506.0,64.3 L506.5,65.8 L506.9,67.2 L507.2,68.7 L507.6,70.1 L508.0,71.6 L508.4,73.0 L508.8,74.5 L509.1,75.9 L509.5,77.4 L509.9,78.8 L510.3,80.3 L510.7,81.7 L511.1,83.2 L511.5,84.6 L512.0,86.1 L512.4,87.5 L512.9,88.9 L513.4,90.3 L513.9,91.7 L514.4,93.1 L515.0,94.5 L515.6,95.9 L516.2,97.3 L516.8,98.6 L517.4,100.0 L518.1,101.3 L518.8,102.7 L519.5,104.0 L520.3,105.3 L521.0,106.5 L521.8,107.8 L522.7,109.0 L523.6,110.2 L524.5,111.4 L525.4,112.5 L526.4,113.6 L527.4,114.7 L528.5,115.8 L529.5,116.8 L530.6,117.8 L531.8,118.8 L532.9,119.7 L534.1,120.7 L535.3,121.6 L536.5,122.5 L537.7,123.4 L538.9,124.3 L540.1,125.2 L541.3,126.1 L542.5,127.0 L543.7,127.9 L544.9,128.8 L546.1,129.7 L547.2,130.6 L548.4,131.6 L549.6,132.5 L550.8,133.4 L551.9,134.4 L553.1,135.3 L554.3,136.2 L555.5,137.2 L556.7,138.1 L557.9,139.0 L559.1,139.8 L560.3,140.7 L561.6,141.6 L562.8,142.4 L564.1,143.2 L565.3,144.0 L566.6,144.8 L567.9,145.6 L569.2,146.4 L570.5,147.1 L571.8,147.9 L573.1,148.6 L574.4,149.3 L575.7,150.1 L577.0,150.8 L578.4,151.5 L579.7,152.2 L581.0,152.8 L582.4,153.5 L583.7,154.2 L585.1,154.8 L586.5,155.4 L587.8,156.0 L589.2,156.6 L590.6,157.1 L592.0,157.7 L593.4,158.2 L594.8,158.7 L596.3,159.2 L597.7,159.6 L599.1,160.1 L600.6,160.5 L602.0,160.9 L603.5,161.3 L604.9,161.7 L606.4,162.0 L607.8,162.4 L609.3,162.7 L610.8,163.0 L612.2,163.3 L613.7,163.7 L615.2,164.0 L616.7,164.3 L618.1,164.6 L619.6,164.9 L621.1,165.1 L622.6,165.4 L624.0,165.7 L625.5,166.0 L627.0,166.2 L628.5,166.5 L630.0,166.8 L631.4,167.0 L632.9,167.3 L634.4,167.5 L635.9,167.8 L637.4,168.1 L638.8,168.3 L640.3,168.6 L641.8,168.8 L643.3,169.1 L644.8,169.4 L646.2,169.6 L647.7,169.9 L649.2,170.2 L650.7,170.4 L652.2,170.6 L653.6,170.9 L655.1,171.1 L656.6,171.3 L658.1,171.5 L659.6,171.7 L661.1,172.0 L662.6,172.2 L664.1,172.4 L665.6,172.6 L667.0,172.8 L668.5,173.0 L670.0,173.1 L671.5,173.3 L673.0,173.5 L674.5,173.7 L675.0,173.8" fill="none" stroke="#00B050" stroke-width="5.3" stroke-linecap="round" stroke-linejoin="round"/>
</g>
<line x1="41.3" y1="11.2" x2="41.3" y2="347.4" stroke="#1a1a1a" stroke-width="1.5"/>
<line x1="40.5" y1="347.2" x2="327.5" y2="347.2" stroke="#1a1a1a" stroke-width="1.5"/>
<line x1="401.9" y1="13.4" x2="401.9" y2="335.9" stroke="#1a1a1a" stroke-width="1.5"/>
<line x1="401.1" y1="335.2" x2="675.4" y2="335.2" stroke="#1a1a1a" stroke-width="1.5"/>
<line x1="85.0" y1="381.4" x2="133.4" y2="381.4" stroke="#000" stroke-width="4.2" stroke-linecap="round" stroke-dasharray="7.5 7.9"/>
<text x="139.8" y="385.4" class="lg">Control (only monomer)</text>
<line x1="85.0" y1="395.3" x2="133.4" y2="395.3" stroke="#FF0000" stroke-width="4.6" stroke-linecap="round"/>
<text x="139.8" y="399.3" class="lg">Catechol (1mM)</text>
<line x1="85.0" y1="408.4" x2="133.4" y2="408.4" stroke="#F6913F" stroke-width="4.6" stroke-linecap="round"/>
<text x="139.8" y="412.4" class="lg">Catechol (5mM)</text>
<line x1="85.0" y1="422.3" x2="133.4" y2="422.3" stroke="#4472C4" stroke-width="4.6" stroke-linecap="round"/>
<text x="139.8" y="426.3" class="lg">Catechol (10mM)</text>
<line x1="85.0" y1="435.5" x2="133.4" y2="435.5" stroke="#00B050" stroke-width="4.6" stroke-linecap="round"/>
<text x="139.8" y="439.5" class="lg">Catechol (20mM)</text>
<line x1="454.2" y1="370.9" x2="502.9" y2="370.9" stroke="#000" stroke-width="4.2" stroke-linecap="round" stroke-dasharray="7.5 7.9"/>
<text x="508.6" y="374.9" class="lg">Control (only monomer)</text>
<line x1="454.2" y1="386.0" x2="502.9" y2="386.0" stroke="#FF0000" stroke-width="4.6" stroke-linecap="round"/>
<text x="508.6" y="390.0" class="lg">Catechin (1mM)</text>
<line x1="454.2" y1="401.3" x2="502.9" y2="401.3" stroke="#548235" stroke-width="4.6" stroke-linecap="round"/>
<text x="508.6" y="405.3" class="lg">Catechin (5mM)</text>
<line x1="454.2" y1="416.4" x2="502.9" y2="416.4" stroke="#0070C0" stroke-width="4.6" stroke-linecap="round"/>
<text x="508.6" y="420.4" class="lg">Catechin (10mM)</text>
<line x1="454.2" y1="431.2" x2="502.9" y2="431.2" stroke="#00B050" stroke-width="4.6" stroke-linecap="round"/>
<text x="508.6" y="435.2" class="lg">Catechin (20mM)</text>
<text x="36.2" y="351.3" class="tk" text-anchor="end">0</text>
<text x="36.2" y="309.3" class="tk" text-anchor="end">0.5</text>
<text x="36.2" y="267.3" class="tk" text-anchor="end">1</text>
<text x="36.2" y="225.3" class="tk" text-anchor="end">1.5</text>
<text x="36.2" y="183.3" class="tk" text-anchor="end">2</text>
<text x="36.2" y="141.3" class="tk" text-anchor="end">2.5</text>
<text x="36.2" y="99.3" class="tk" text-anchor="end">3</text>
<text x="36.2" y="57.3" class="tk" text-anchor="end">3.5</text>
<text x="36.2" y="15.3" class="tk" text-anchor="end">4</text>
<text x="396.6" y="339.2" class="tk" text-anchor="end">0</text>
<text x="396.6" y="298.9" class="tk" text-anchor="end">0.5</text>
<text x="396.6" y="258.6" class="tk" text-anchor="end">1</text>
<text x="396.6" y="218.3" class="tk" text-anchor="end">1.5</text>
<text x="396.6" y="178.0" class="tk" text-anchor="end">2</text>
<text x="396.6" y="137.7" class="tk" text-anchor="end">2.5</text>
<text x="396.6" y="97.4" class="tk" text-anchor="end">3</text>
<text x="396.6" y="57.1" class="tk" text-anchor="end">3.5</text>
<text x="396.6" y="16.8" class="tk" text-anchor="end">4</text>
<text x="41.3" y="362.8" class="tk" text-anchor="middle">300</text>
<text x="401.9" y="351.3" class="tk" text-anchor="middle">300</text>
<text x="112.8" y="362.8" class="tk" text-anchor="middle">400</text>
<text x="470.2" y="351.3" class="tk" text-anchor="middle">400</text>
<text x="184.3" y="362.8" class="tk" text-anchor="middle">500</text>
<text x="538.6" y="351.3" class="tk" text-anchor="middle">500</text>
<text x="255.8" y="362.8" class="tk" text-anchor="middle">600</text>
<text x="606.9" y="351.3" class="tk" text-anchor="middle">600</text>
<text x="327.3" y="362.8" class="tk" text-anchor="middle">700</text>
<text x="675.2" y="351.3" class="tk" text-anchor="middle">700</text>
<text class="ab" transform="translate(10.2,182.7) rotate(-90)" text-anchor="middle">Absorbance</text>
<text class="ab" transform="translate(372.5,178.3) rotate(-90)" text-anchor="middle">Absorbance</text>
<text x="13.2" y="15.9" class="pl">a</text>
<text x="370.4" y="16.0" class="pl">b</text>
</svg>
</body></html>
